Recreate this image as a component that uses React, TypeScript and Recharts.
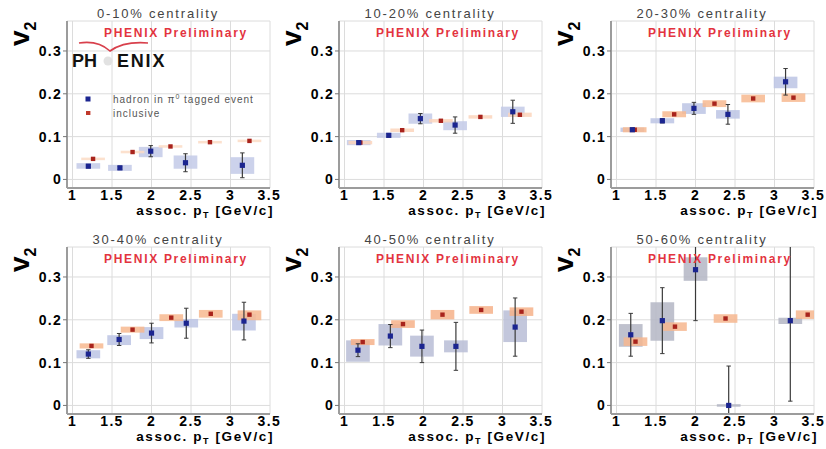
import React from 'react';
import { ScatterChart, Scatter, XAxis, YAxis, CartesianGrid, ReferenceArea, ReferenceLine } from 'recharts';

type Pt = { pt: number; v2: number; stat: number; sysLo: number; sysHi: number };

// ---- data ----
const centralities = ['0-10%', '10-20%', '20-30%', '30-40%', '40-50%', '50-60%'];
const xTicks = [1, 1.5, 2, 2.5, 3, 3.5];
const yTicks = [0, 0.1, 0.2, 0.3];
const xMinorTicks = [1, 1.25, 1.5, 1.75, 2, 2.25, 2.5, 2.75, 3, 3.25, 3.5];
const yMinorTicks = [0, 0.02, 0.04, 0.06, 0.08, 0.1, 0.12, 0.14, 0.16, 0.18, 0.2, 0.22, 0.24, 0.26, 0.28, 0.3, 0.32, 0.34, 0.36];
const PT_HALF = 0.15; // half width of systematic boxes in pT
const CAP_HALF = 0.028; // half width of error-bar caps in pT

const tagged0_10: Pt[] = [
  { pt: 1.2, v2: 0.031, stat: 0.004, sysLo: 0.025, sysHi: 0.038 },
  { pt: 1.6, v2: 0.027, stat: 0.004, sysLo: 0.02, sysHi: 0.034 },
  { pt: 1.99, v2: 0.066, stat: 0.013, sysLo: 0.052, sysHi: 0.076 },
  { pt: 2.43, v2: 0.039, stat: 0.021, sysLo: 0.025, sysHi: 0.056 },
  { pt: 3.15, v2: 0.033, stat: 0.029, sysLo: 0.013, sysHi: 0.052 },
];
const incl0_10: Pt[] = [
  { pt: 1.26, v2: 0.048, stat: 0, sysLo: 0.045, sysHi: 0.051 },
  { pt: 1.76, v2: 0.064, stat: 0, sysLo: 0.061, sysHi: 0.067 },
  { pt: 2.24, v2: 0.077, stat: 0, sysLo: 0.074, sysHi: 0.08 },
  { pt: 2.74, v2: 0.087, stat: 0, sysLo: 0.084, sysHi: 0.09 },
  { pt: 3.24, v2: 0.09, stat: 0, sysLo: 0.087, sysHi: 0.093 },
];

const tagged10_20: Pt[] = [
  { pt: 1.18, v2: 0.086, stat: 0.003, sysLo: 0.08, sysHi: 0.092 },
  { pt: 1.56, v2: 0.103, stat: 0.004, sysLo: 0.097, sysHi: 0.109 },
  { pt: 1.96, v2: 0.142, stat: 0.012, sysLo: 0.13, sysHi: 0.154 },
  { pt: 2.4, v2: 0.127, stat: 0.019, sysLo: 0.115, sysHi: 0.136 },
  { pt: 3.13, v2: 0.158, stat: 0.027, sysLo: 0.146, sysHi: 0.17 },
];
const incl10_20: Pt[] = [
  { pt: 1.2, v2: 0.086, stat: 0, sysLo: 0.082, sysHi: 0.09 },
  { pt: 1.73, v2: 0.115, stat: 0, sysLo: 0.111, sysHi: 0.119 },
  { pt: 2.22, v2: 0.137, stat: 0, sysLo: 0.133, sysHi: 0.141 },
  { pt: 2.72, v2: 0.146, stat: 0, sysLo: 0.142, sysHi: 0.15 },
  { pt: 3.22, v2: 0.151, stat: 0, sysLo: 0.146, sysHi: 0.156 },
];

const tagged20_30: Pt[] = [
  { pt: 1.2, v2: 0.116, stat: 0.004, sysLo: 0.111, sysHi: 0.121 },
  { pt: 1.58, v2: 0.137, stat: 0.005, sysLo: 0.131, sysHi: 0.143 },
  { pt: 1.98, v2: 0.166, stat: 0.014, sysLo: 0.153, sysHi: 0.178 },
  { pt: 2.41, v2: 0.152, stat: 0.023, sysLo: 0.142, sysHi: 0.162 },
  { pt: 3.14, v2: 0.228, stat: 0.031, sysLo: 0.213, sysHi: 0.24 },
];
const incl20_30: Pt[] = [
  { pt: 1.23, v2: 0.116, stat: 0, sysLo: 0.11, sysHi: 0.122 },
  { pt: 1.73, v2: 0.152, stat: 0, sysLo: 0.145, sysHi: 0.159 },
  { pt: 2.24, v2: 0.177, stat: 0, sysLo: 0.169, sysHi: 0.185 },
  { pt: 2.73, v2: 0.189, stat: 0, sysLo: 0.18, sysHi: 0.198 },
  { pt: 3.24, v2: 0.191, stat: 0, sysLo: 0.181, sysHi: 0.201 },
];

const tagged30_40: Pt[] = [
  { pt: 1.2, v2: 0.12, stat: 0.01, sysLo: 0.11, sysHi: 0.129 },
  { pt: 1.59, v2: 0.154, stat: 0.014, sysLo: 0.141, sysHi: 0.164 },
  { pt: 2.0, v2: 0.169, stat: 0.023, sysLo: 0.155, sysHi: 0.183 },
  { pt: 2.44, v2: 0.192, stat: 0.035, sysLo: 0.182, sysHi: 0.202 },
  { pt: 3.17, v2: 0.197, stat: 0.044, sysLo: 0.175, sysHi: 0.214 },
];
const incl30_40: Pt[] = [
  { pt: 1.24, v2: 0.139, stat: 0, sysLo: 0.133, sysHi: 0.145 },
  { pt: 1.76, v2: 0.177, stat: 0, sysLo: 0.17, sysHi: 0.184 },
  { pt: 2.25, v2: 0.205, stat: 0, sysLo: 0.197, sysHi: 0.213 },
  { pt: 2.75, v2: 0.214, stat: 0, sysLo: 0.205, sysHi: 0.223 },
  { pt: 3.24, v2: 0.212, stat: 0, sysLo: 0.199, sysHi: 0.222 },
];

const tagged40_50: Pt[] = [
  { pt: 1.17, v2: 0.129, stat: 0.015, sysLo: 0.102, sysHi: 0.152 },
  { pt: 1.58, v2: 0.162, stat: 0.027, sysLo: 0.14, sysHi: 0.19 },
  { pt: 1.98, v2: 0.138, stat: 0.038, sysLo: 0.114, sysHi: 0.163 },
  { pt: 2.41, v2: 0.138, stat: 0.056, sysLo: 0.124, sysHi: 0.152 },
  { pt: 3.16, v2: 0.183, stat: 0.068, sysLo: 0.148, sysHi: 0.222 },
];
const incl40_50: Pt[] = [
  { pt: 1.23, v2: 0.148, stat: 0, sysLo: 0.141, sysHi: 0.155 },
  { pt: 1.74, v2: 0.19, stat: 0, sysLo: 0.181, sysHi: 0.199 },
  { pt: 2.24, v2: 0.212, stat: 0, sysLo: 0.201, sysHi: 0.223 },
  { pt: 2.73, v2: 0.223, stat: 0, sysLo: 0.214, sysHi: 0.232 },
  { pt: 3.24, v2: 0.219, stat: 0, sysLo: 0.209, sysHi: 0.229 },
];

const tagged50_60: Pt[] = [
  { pt: 1.18, v2: 0.165, stat: 0.05, sysLo: 0.137, sysHi: 0.19 },
  { pt: 1.58, v2: 0.198, stat: 0.077, sysLo: 0.151, sysHi: 0.241 },
  { pt: 2.0, v2: 0.317, stat: 0.119, sysLo: 0.291, sysHi: 0.346 },
  { pt: 2.42, v2: 0.0, stat: 0.092, sysLo: -0.003, sysHi: 0.003 },
  { pt: 3.2, v2: 0.198, stat: 0.188, sysLo: 0.19, sysHi: 0.205 },
];
const incl50_60: Pt[] = [
  { pt: 1.24, v2: 0.149, stat: 0, sysLo: 0.139, sysHi: 0.159 },
  { pt: 1.74, v2: 0.184, stat: 0, sysLo: 0.174, sysHi: 0.194 },
  { pt: 2.38, v2: 0.203, stat: 0, sysLo: 0.193, sysHi: 0.213 },
  { pt: 3.42, v2: 0.212, stat: 0, sysLo: 0.202, sysHi: 0.222 },
];

const taggedSets = [tagged0_10, tagged10_20, tagged20_30, tagged30_40, tagged40_50, tagged50_60];
const inclSets = [incl0_10, incl10_20, incl20_30, incl30_40, incl40_50, incl50_60];

// ---- styling ----
const FONT = 'Liberation Sans, Arial, Helvetica, sans-serif';
const X_DOMAIN: [number, number] = [0.93, 3.5];
const Y_DOMAIN: [number, number] = [-0.02, 0.37];
const FRAME = '#9c9c9c';
const ERR = '#3a3a3a';
const TAG_BOX = ['#c3cae8', '#c3cae8', '#bcc4e4', '#bcc4e4', '#b9bdd6', '#b4b6c4'];
const INC_BOX = ['#fbdcc6', '#fbd5bc', '#f7b98f', '#f7b98f', '#f6b189', '#f6b68e'];
const W = 280;
const H = 224;

const tickStyle = { fontFamily: FONT, fontSize: 14, fontWeight: 700, fill: '#000', letterSpacing: 1.3 };

function TaggedMarker(p: any) {
  if (p.cx == null || p.cy == null) return <g />;
  return <rect x={p.cx - 2.6} y={p.cy - 2.6} width={5.2} height={5.2} fill="#1b2590" />;
}
function InclMarker(p: any) {
  if (p.cx == null || p.cy == null) return <g />;
  return <rect x={p.cx - 2.2} y={p.cy - 2.2} width={4.4} height={4.4} fill="#a8231c" />;
}

function Panel({ idx }: { idx: number }) {
  const tagged = taggedSets[idx];
  const incl = inclSets[idx];
  const col = idx % 3;
  const row = Math.floor(idx / 3);
  const left = col * 272;
  const top = row * 226;
  const taggedTable = tagged.map((d) => ({ pt: d.pt, v2: d.v2 }));
  const inclTable = incl.map((d) => ({ pt: d.pt, v2: d.v2 }));
  return (
    <div style={{ position: 'absolute', left, top, width: W, height: H }}>
      <ScatterChart width={W} height={H} margin={{ top: 21, right: 10, bottom: 16, left: 17 }}>
        <CartesianGrid stroke="#dcdcdc" strokeWidth={1} />
        <XAxis
          type="number"
          dataKey="pt"
          domain={X_DOMAIN}
          ticks={xTicks}
          allowDataOverflow
          tickFormatter={(v) => String(v)}
          tick={tickStyle}
          tickLine={false}
          tickSize={0}
          tickMargin={2}
          height={20}
          axisLine={{ stroke: FRAME, strokeWidth: 2 }}
        />
        <YAxis
          type="number"
          dataKey="v2"
          domain={Y_DOMAIN}
          ticks={yTicks}
          allowDataOverflow
          tickFormatter={(v) => String(v)}
          tick={tickStyle}
          tickLine={{ stroke: '#777' }}
          tickSize={4}
          tickMargin={1}
          width={50}
          axisLine={{ stroke: FRAME, strokeWidth: 2 }}
        />
        <XAxis
          xAxisId="top"
          orientation="top"
          type="number"
          domain={X_DOMAIN}
          allowDataOverflow
          tick={false}
          tickLine={false}
          height={0}
          axisLine={{ stroke: FRAME, strokeWidth: 2 }}
        />
        <YAxis
          yAxisId="right"
          orientation="right"
          type="number"
          domain={Y_DOMAIN}
          allowDataOverflow
          tick={false}
          tickLine={false}
          width={0}
          axisLine={{ stroke: FRAME, strokeWidth: 2 }}
        />
        <XAxis
          xAxisId="minorX"
          orientation="bottom"
          mirror
          type="number"
          domain={X_DOMAIN}
          ticks={xMinorTicks}
          allowDataOverflow
          tick={false}
          axisLine={false}
          tickLine={{ stroke: '#666' }}
          tickSize={4}
          height={0}
        />
        <YAxis
          yAxisId="minorY"
          orientation="left"
          mirror
          type="number"
          domain={Y_DOMAIN}
          ticks={yMinorTicks}
          allowDataOverflow
          tick={false}
          axisLine={false}
          tickLine={{ stroke: '#666' }}
          tickSize={3}
          width={0}
        />
        {tagged.map((d, i) => (
          <ReferenceArea
            key={'tb' + i}
            x1={d.pt - PT_HALF}
            x2={d.pt + PT_HALF}
            y1={d.sysLo}
            y2={d.sysHi}
            fill={TAG_BOX[idx]}
            fillOpacity={0.85}
            stroke="none"
            ifOverflow="hidden"
          />
        ))}
        {incl.map((d, i) => (
          <ReferenceArea
            key={'ib' + i}
            x1={d.pt - PT_HALF}
            x2={d.pt + PT_HALF}
            y1={d.sysLo}
            y2={d.sysHi}
            fill={INC_BOX[idx]}
            fillOpacity={0.85}
            stroke="none"
            ifOverflow="hidden"
          />
        ))}
        {tagged.map((d, i) => (
          <ReferenceLine
            key={'ev' + i}
            segment={[{ x: d.pt, y: d.v2 - d.stat }, { x: d.pt, y: d.v2 + d.stat }]}
            stroke={ERR}
            strokeWidth={1.2}
            ifOverflow="hidden"
          />
        ))}
        {tagged.map((d, i) => (
          <ReferenceLine
            key={'cl' + i}
            segment={[{ x: d.pt - CAP_HALF, y: d.v2 - d.stat }, { x: d.pt + CAP_HALF, y: d.v2 - d.stat }]}
            stroke={ERR}
            strokeWidth={1}
            ifOverflow="hidden"
          />
        ))}
        {tagged.map((d, i) => (
          <ReferenceLine
            key={'ch' + i}
            segment={[{ x: d.pt - CAP_HALF, y: d.v2 + d.stat }, { x: d.pt + CAP_HALF, y: d.v2 + d.stat }]}
            stroke={ERR}
            strokeWidth={1}
            ifOverflow="hidden"
          />
        ))}
        <Scatter data={inclTable} shape={InclMarker} isAnimationActive={false} />
        <Scatter data={taggedTable} shape={TaggedMarker} isAnimationActive={false} />
      </ScatterChart>
      <svg
        width={W}
        height={H}
        style={{ position: 'absolute', left: 0, top: 0, pointerEvents: 'none', overflow: 'visible' }}
      >
        <text x={158} y={18} textAnchor="middle" fontFamily={FONT} fontSize={13} fill="#444" letterSpacing={1.8}>
          {centralities[idx] + ' centrality'}
        </text>
        <text x={176} y={37} textAnchor="middle" fontFamily={FONT} fontSize={12} fontWeight={700} fill="#e3343f" letterSpacing={1.7}>
          PHENIX Preliminary
        </text>
        <text
          x={29}
          y={46}
          transform="rotate(-90 29 46)"
          fontFamily={FONT}
          fontWeight={700}
          fill="#000"
        >
          <tspan fontSize={28}>v</tspan>
          <tspan fontSize={16} dy={7}>2</tspan>
        </text>
        <text x={274} y={215} textAnchor="end" fontFamily={FONT} fontSize={13.5} fontWeight={700} fill="#000" letterSpacing={1.6}>
          assoc. p<tspan fontSize={9} dy={3}>T</tspan>
          <tspan dy={-3}> [GeV/c]</tspan>
        </text>
        {idx === 0 && (
          <g>
            <path d="M79,43 Q98,40 110,51 Q124,41 148,43" fill="none" stroke="#d8404c" strokeWidth={1.6} />
            <text x={72} y={67} fontFamily={FONT} fontSize={18} fontWeight={700} fill="#111">PH</text>
            <circle cx={108} cy={61} r={4.5} fill="#e2e2e2" />
            <text x={117} y={67} fontFamily={FONT} fontSize={18} fontWeight={700} fill="#111" letterSpacing={1.8}>ENIX</text>
            <rect x={85.5} y={96.5} width={5} height={5} fill="#1b2590" />
            <rect x={86} y={111} width={4.4} height={4} fill="#c0392b" />
            <text x={113} y={102.5} fontFamily={FONT} fontSize={10} fill="#555" letterSpacing={1}>
              hadron in π<tspan fontSize={7} dy={-4}>0</tspan>
              <tspan dy={4}> tagged event</tspan>
            </text>
            <text x={113} y={116.5} fontFamily={FONT} fontSize={10} fill="#555" letterSpacing={1}>
              inclusive
            </text>
          </g>
        )}
      </svg>
    </div>
  );
}

export default function App() {
  return (
    <div style={{ position: 'absolute', left: 0, top: 0, width: 826, height: 449, background: '#fff', overflow: 'hidden' }}>
      {centralities.map((_, i) => (
        <Panel key={i} idx={i} />
      ))}
    </div>
  );
}
